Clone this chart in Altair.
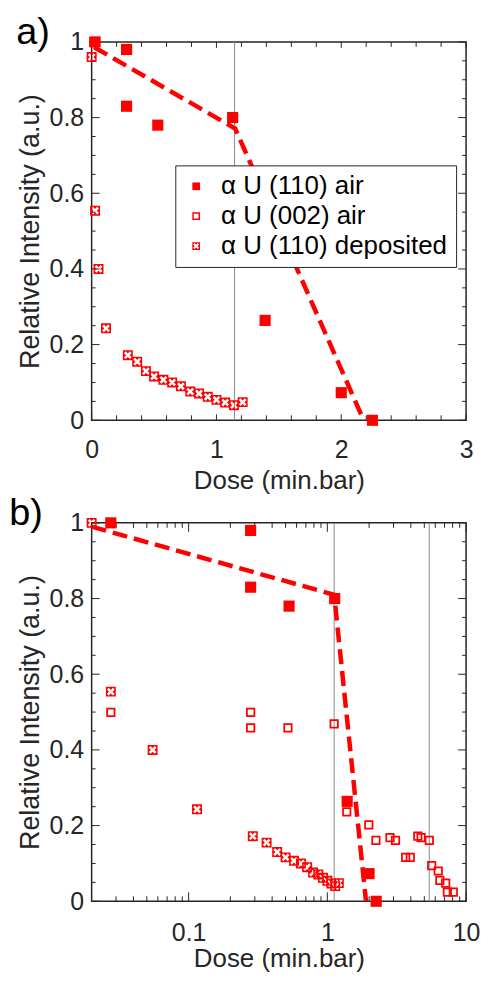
import altair as alt
import pandas as pd

RED = "#ff0000"
DARK = "#262626"
GRAY = "#8a8a8a"
FONT = "Liberation Sans"

series_names = ["α U (110) air", "α U (002) air", "α U (110) deposited"]

# α U (110) air (filled squares)
air110_dose = [0.0275, 0.28, 0.28, 0.53, 1.13, 1.39, 2.0, 2.25]
air110_int = [1.0, 0.98, 0.83, 0.78, 0.80, 0.264, 0.073, 0.0]

# α U (002) air (open squares) - only shown in panel b
air002_dose = [0.0275, 0.28, 0.28, 0.52, 1.12, 1.38, 1.99, 2.24, 2.83, 3.10, 3.67, 3.96,
               4.49, 4.74, 5.43, 5.65, 6.30, 6.47, 7.13, 7.33, 8.09]
air002_int = [0.499, 0.499, 0.458, 0.458, 0.469, 0.236, 0.202, 0.161, 0.168, 0.161, 0.116, 0.116,
              0.172, 0.168, 0.161, 0.094, 0.080, 0.055, 0.048, 0.024, 0.024]

# α U (110) deposited (crossed squares)
dep_dose = [0.0, 0.02, 0.0275, 0.055, 0.115, 0.29, 0.365, 0.435, 0.50, 0.575, 0.645,
            0.715, 0.79, 0.86, 0.93, 1.0, 1.07, 1.14, 1.21]
dep_int = [0.96, 1.0, 0.554, 0.40, 0.243, 0.172, 0.155, 0.130, 0.116, 0.107, 0.100,
           0.090, 0.076, 0.071, 0.062, 0.054, 0.047, 0.040, 0.048]

# dashed guide lines
fit_a_dose = [0.02, 1.15, 2.18]
fit_a_int = [0.986, 0.771, 0.0]
fit_b_dose = [0.02, 1.12, 1.9]
fit_b_int = [0.99, 0.81, 0.0]

# thin vertical markers
vline_a = [1.145]
vline_b = [1.12, 5.43]

# ticks
y_major = [0.0, 0.2, 0.4, 0.6, 0.8, 1.0]
y_minor = [0.05, 0.1, 0.15, 0.25, 0.3, 0.35, 0.45, 0.5, 0.55, 0.65, 0.7, 0.75, 0.85, 0.9, 0.95]
xa_major = [0, 1, 2, 3]
xa_minor = [0.2, 0.4, 0.6, 0.8, 1.2, 1.4, 1.6, 1.8, 2.2, 2.4, 2.6, 2.8]
xb_major = [0.1, 1, 10]
xb_minor = [0.03, 0.04, 0.05, 0.06, 0.07, 0.08, 0.09,
            0.2, 0.3, 0.4, 0.5, 0.6, 0.7, 0.8, 0.9,
            2, 3, 4, 5, 6, 7, 8, 9]

# marker shapes (unit box [-1,1])
SQ = "M-1,-1L1,-1L1,1L-1,1Z"
RING = "M-1,-1L1,-1L1,1L-1,1Z M-0.62,-0.62L-0.62,0.62L0.62,0.62L0.62,-0.62Z"
XBOX = ("M-1,-1L-1,1L1,1L1,-1Z "
        "M0,-0.35L0.42,-0.78L0.78,-0.42L0.35,0L0.78,0.42L0.42,0.78L0,0.35"
        "L-0.42,0.78L-0.78,0.42L-0.35,0L-0.78,-0.42L-0.42,-0.78Z")
marker_sizes = [125, 85, 100]

W = 376
H_A = 380
H_B = 380


def make_panel(label, xscale, xmajor, xminor, vlines, fit_dose, fit_int, include002,
               legend, H, major_len, xlabpad, xtitlepad, title_dx, title_offset):
    yscale = alt.Scale(domain=[0, 1], nice=False, zero=False)
    shape_scale = alt.Scale(domain=series_names, range=[SQ, RING, XBOX])

    xaxis = alt.Axis(values=xmajor, format="~g", ticks=False, domain=False, grid=False,
                     labelFontSize=25, labelPadding=xlabpad, labelFlush=False,
                     labelOverlap=False, labelColor=DARK, labelFont=FONT,
                     title="Dose (min.bar)", titleFontSize=26, titleFont=FONT,
                     titleFontWeight="normal", titleColor=DARK, titlePadding=xtitlepad)
    yaxis = alt.Axis(values=y_major, format="~g", ticks=False, domain=False, grid=False,
                     labelFontSize=25, labelPadding=8, labelFlush=False,
                     labelOverlap=False, labelColor=DARK, labelFont=FONT,
                     title="Relative Intensity (a.u.)", titleFontSize=27, titleFont=FONT,
                     titleFontWeight="normal", titleColor=DARK, titlePadding=5)

    def X(field):
        return alt.X(field, scale=xscale, axis=xaxis)

    def Y(field):
        return alt.Y(field, scale=yscale, axis=yaxis)

    vl = alt.Chart(pd.DataFrame({"v": vlines})).mark_rule(color=GRAY, strokeWidth=1).encode(
        x=X("v:Q")
    )

    if legend:
        leg = alt.Legend(title=None, orient="none", legendX=84, legendY=124,
                         fillColor="white", strokeColor=DARK,
                         padding=8, labelFontSize=26, labelFont=FONT, labelColor="black",
                         symbolSize=60, symbolFillColor=RED, symbolStrokeWidth=0,
                         rowPadding=4, labelOffset=12, labelLimit=400, cornerRadius=0)
    else:
        leg = None

    series_data = [
        (air110_dose, air110_int),
        (air002_dose, air002_int) if include002 else ([], []),
        (dep_dose, dep_int),
    ]
    pts_layers = []
    for i, (ds, vs) in enumerate(series_data):
        d = pd.DataFrame({"dose": ds, "intensity": vs, "series": [series_names[i]] * len(ds)})
        if xscale.type == "log":
            d = d[d["dose"] > 0]
        if len(d) == 0:
            continue
        shape_kwargs = {"scale": shape_scale}
        if i == 0:
            shape_kwargs["legend"] = leg
        pts_layers.append(
            alt.Chart(d).mark_point(filled=True, fill=RED, opacity=1, strokeWidth=0,
                                    size=marker_sizes[i]).encode(
                x=X("dose:Q"), y=Y("intensity:Q"),
                shape=alt.Shape("series:N", **shape_kwargs),
            )
        )

    fit = alt.Chart(pd.DataFrame({"dose": fit_dose, "intensity": fit_int})).mark_line(
        color=RED, strokeWidth=4.5, strokeDash=[15, 7]
    ).encode(x=X("dose:Q"), y=Y("intensity:Q"))

    def xt(vals, length, top):
        base = alt.Chart(pd.DataFrame({"v": vals})).mark_rule(color=DARK, strokeWidth=1)
        if top:
            return base.encode(x=X("v:Q"), y=alt.value(0), y2=alt.value(length))
        return base.encode(x=X("v:Q"), y=alt.value(H), y2=alt.value(H - length))

    def yt(vals, length, right):
        base = alt.Chart(pd.DataFrame({"v": vals})).mark_rule(color=DARK, strokeWidth=1)
        if right:
            return base.encode(y=Y("v:Q"), x=alt.value(W), x2=alt.value(W - length))
        return base.encode(y=Y("v:Q"), x=alt.value(0), x2=alt.value(length))

    xmaj_len, xmin_len = major_len
    ticks = [
        xt(xmajor, xmaj_len, False), xt(xminor, xmin_len, False),
        xt(xmajor, xmaj_len, True), xt(xminor, xmin_len, True),
        yt(y_major, 8, False), yt(y_minor, 4, False),
        yt(y_major, 8, True), yt(y_minor, 4, True),
    ]

    return alt.layer(vl, *ticks, *pts_layers, fit).properties(
        width=W, height=H,
        title=alt.TitleParams(label, anchor="start", fontSize=38, font=FONT,
                              fontWeight="normal", color="black", dx=title_dx,
                              offset=title_offset),
    )


panel_a = make_panel("a)", alt.Scale(type="linear", domain=[0, 3], nice=False, zero=False),
                     xa_major, xa_minor, vline_a, fit_a_dose, fit_a_int, False, True,
                     H_A, (6, 5), 17, 5, 0, -22)
panel_b = make_panel("b)", alt.Scale(type="log", domain=[0.02, 10], nice=False),
                     xb_major, xb_minor, vline_b, fit_b_dose, fit_b_int, True, False,
                     H_B, (9, 5), 19, 1, -7, -22)

chart = alt.vconcat(panel_a, panel_b, spacing=0).configure_view(
    stroke=DARK, strokeWidth=1.5
).properties(padding={"left": 0, "top": 3, "right": 0, "bottom": 0})

chart.save("out.html", embed_options={"renderer": "svg", "actions": False})
